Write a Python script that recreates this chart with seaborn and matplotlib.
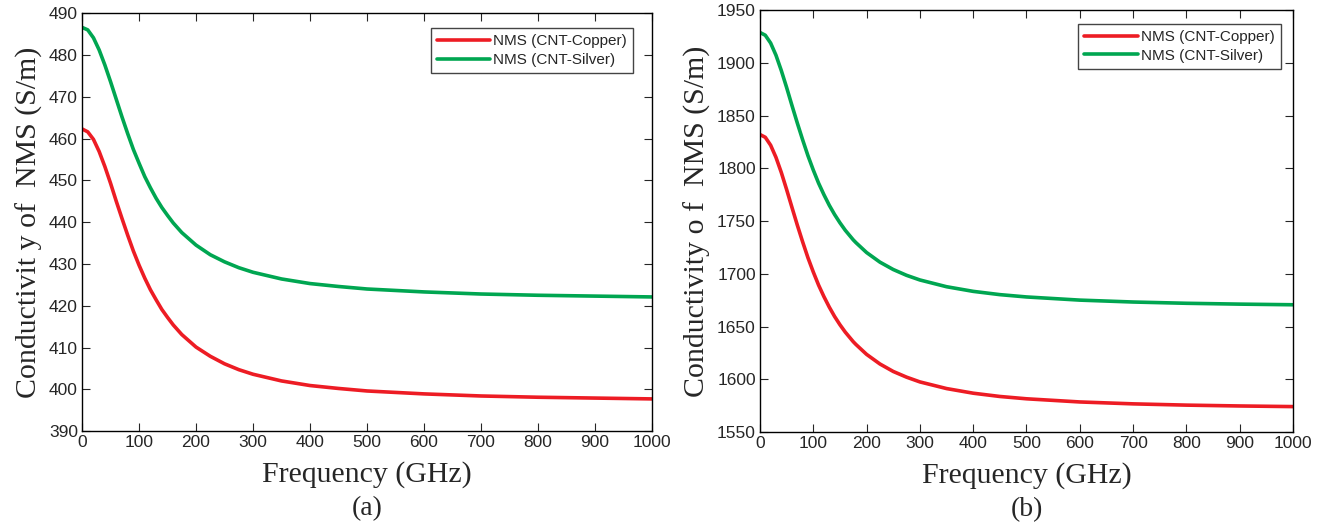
import pandas as pd
import matplotlib
matplotlib.use('Agg')
import matplotlib.pyplot as plt
import seaborn as sns

# frequency points (GHz)
freq = [0, 10, 20, 30, 40, 50, 60, 70, 80, 90, 100, 110, 120, 130, 140, 150,
        160, 175, 180, 200, 225, 250, 275, 300, 350, 400, 450, 500, 600, 700,
        800, 900, 1000]

# panel (a)
cu_a = [462.3, 461.6, 459.8, 456.9, 453.3, 449.3, 445.0, 440.9, 436.9, 433.1,
        429.7, 426.6, 423.8, 421.4, 419.1, 417.2, 415.4, 413.1, 412.5, 410.1,
        407.9, 406.1, 404.7, 403.6, 402.0, 400.9, 400.2, 399.6, 398.9, 398.4,
        398.1, 397.9, 397.7]
ag_a = [486.6, 486.0, 484.1, 481.2, 477.6, 473.6, 469.4, 465.2, 461.2, 457.4,
        454.1, 450.9, 448.2, 445.7, 443.5, 441.6, 439.8, 437.5, 436.9, 434.5,
        432.2, 430.5, 429.1, 428.0, 426.4, 425.3, 424.6, 424.0, 423.3, 422.8,
        422.5, 422.3, 422.1]

# panel (b)
cu_b = [1832.0, 1829.4, 1821.9, 1810.4, 1796.1, 1779.9, 1763.0, 1746.3, 1730.4,
        1715.3, 1701.8, 1689.3, 1678.4, 1668.5, 1659.6, 1651.8, 1644.8, 1635.7,
        1633.1, 1623.7, 1614.6, 1607.5, 1602.1, 1597.6, 1591.3, 1586.9, 1583.8,
        1581.6, 1578.6, 1576.8, 1575.6, 1574.8, 1574.2]
ag_b = [1928.7, 1926.1, 1918.7, 1907.2, 1892.7, 1876.6, 1859.6, 1843.0, 1827.1,
        1812.0, 1798.4, 1785.9, 1775.0, 1765.0, 1756.2, 1748.4, 1741.3, 1732.2,
        1729.6, 1720.2, 1711.1, 1704.1, 1698.6, 1694.2, 1687.8, 1683.4, 1680.3,
        1678.1, 1675.1, 1673.3, 1672.1, 1671.3, 1670.7]

labels = ['NMS (CNT-Copper)', 'NMS (CNT-Silver)']
colors = {'NMS (CNT-Copper)': '#ED1C24', 'NMS (CNT-Silver)': '#00A651'}

sns.set_style('ticks')
plt.rcParams['font.family'] = ['Liberation Sans', 'DejaVu Sans']


def make_df(cu, ag):
    return pd.DataFrame({
        'freq': freq + freq,
        'val': cu + ag,
        'series': [labels[0]] * len(freq) + [labels[1]] * len(freq),
    })


fig = plt.figure(figsize=(13.3, 5.27), dpi=100)
ax1 = fig.add_axes([0.0617, 0.182, 0.4285, 0.793])
ax2 = fig.add_axes([0.5714, 0.180, 0.4008, 0.801])

panels = [
    (ax1, make_df(cu_a, ag_a), (390, 490), range(390, 491, 10),
     'Conductivit y of  NMS (S/m)', '(a)', (0.967, 0.964)),
    (ax2, make_df(cu_b, ag_b), (1550, 1950), range(1550, 1951, 50),
     'Conductivity o f  NMS (S/m)', '(b)', (0.977, 0.967)),
]

for ax, df, ylim, yticks, ylab, tag, anchor in panels:
    sns.lineplot(data=df, x='freq', y='val', hue='series', palette=colors,
                 linewidth=2.6, ax=ax)
    ax.set_xlim(0, 1000)
    ax.set_ylim(*ylim)
    ax.set_xticks(range(0, 1001, 100))
    ax.set_yticks(list(yticks))
    ax.tick_params(direction='in', top=True, right=True, length=6,
                   labelsize=12.5, pad=3)
    for s in ax.spines.values():
        s.set_linewidth(1.0)
        s.set_color('black')
    ax.set_xlabel('Frequency (GHz)', family='Liberation Serif', fontsize=21.5,
                  labelpad=8)
    ax.set_ylabel(ylab, family='Liberation Serif', fontsize=21.5, labelpad=4)
    leg = ax.legend(loc='upper right', fontsize=11, frameon=True,
                    fancybox=False, edgecolor='#444444', framealpha=1,
                    handlelength=3.5, handletextpad=0.2, borderpad=0.4,
                    labelspacing=0.3, borderaxespad=0, bbox_to_anchor=anchor)
    leg.get_frame().set_linewidth(1.0)
    ax.text(0.5, -0.155, tag, transform=ax.transAxes, ha='center', va='top',
            family='Liberation Serif', fontsize=20)

fig.savefig('out.png', dpi=100)
